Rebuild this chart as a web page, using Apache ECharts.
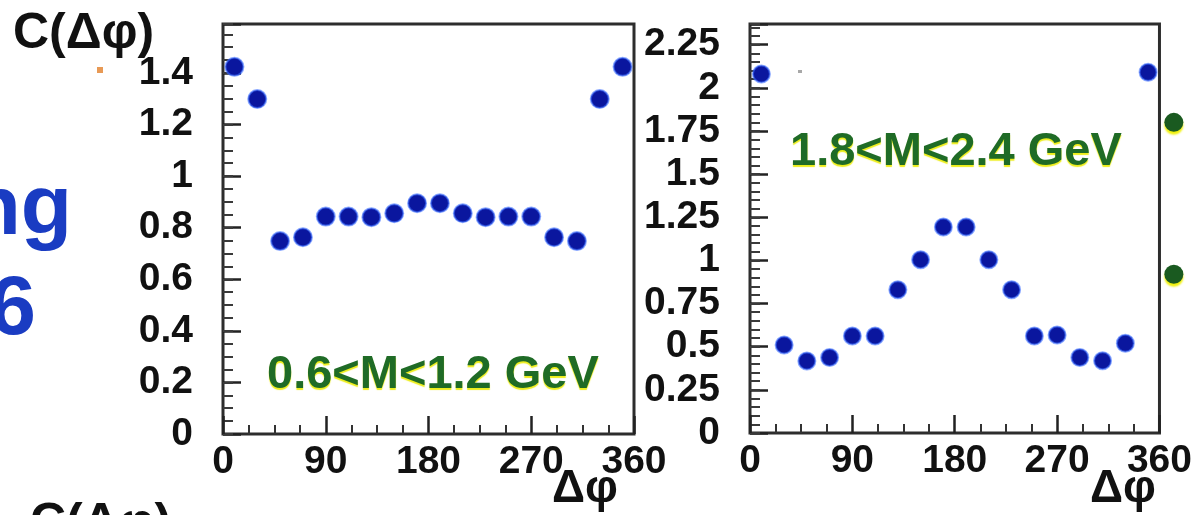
<!DOCTYPE html>
<html>
<head>
<meta charset="utf-8">
<script src="https://cdn.jsdelivr.net/npm/echarts@6/dist/echarts.min.js"></script>
<style>
  html, body { margin: 0; padding: 0; background: #fff; }
  #c { width: 1195px; height: 515px; }
</style>
</head>
<body>
<div id="c"></div>
<script>
// Azimuthal correlation C(Δφ) in 20° bins, two pair-mass windows
const phiBins  = [10, 30, 50, 70, 90, 110, 130, 150, 170, 190, 210, 230, 250, 270, 290, 310, 330, 350];
const lowMass  = [1.424, 1.299, 0.748, 0.763, 0.843, 0.843, 0.841, 0.856, 0.895, 0.895, 0.856, 0.841, 0.843, 0.843, 0.763, 0.748, 1.299, 1.424];
const highMass = [2.080, 0.510, 0.417, 0.438, 0.562, 0.562, 0.830, 1.004, 1.194, 1.194, 1.004, 0.830, 0.562, 0.568, 0.438, 0.419, 0.520, 2.090];
// neighbouring panel, only its first bin is in view
const edgeBins   = [10, 10];
const edgeValues = [1.80, 0.92];

const phiTicks  = [0, 90, 180, 270, 360];
const lowTicks  = [0, 0.2, 0.4, 0.6, 0.8, 1, 1.2, 1.4];
const highTicks = [0, 0.25, 0.5, 0.75, 1, 1.25, 1.5, 1.75, 2, 2.25];
const lowLabel  = '0.6<M<1.2 GeV';
const highLabel = '1.8<M<2.4 GeV';
const yTitle = 'C(Δφ)';
const xTitle = 'Δφ';

const FONT = 'Liberation Sans';
const INK = '#111';

function pick(list) {
  return v => {
    const hit = list.find(t => Math.abs(t - v) < 1e-6);
    return hit === undefined ? '' : String(hit);
  };
}

function xAxisFor(grid) {
  return {
    gridIndex: grid, type: 'value', min: 0, max: 360, interval: 90,
    axisLine: { show: false },
    axisTick: { inside: true, length: 18, lineStyle: { color: '#222', width: 2.5 } },
    minorTick: { show: true, splitNumber: 4, length: 9, lineStyle: { color: '#333', width: 2 } },
    axisLabel: { margin: 9, fontSize: 39, fontWeight: 'bold', fontFamily: FONT, color: INK, formatter: pick(phiTicks) },
    splitLine: { show: false }
  };
}
function yMajor(grid, max, step, ticks) {
  return {
    gridIndex: grid, type: 'value', min: 0, max: max, interval: step, position: 'left',
    axisLine: { show: false },
    axisTick: { inside: true, length: 18, lineStyle: { color: '#222', width: 2.5 } },
    axisLabel: { margin: 30, fontSize: 39, fontWeight: 'bold', fontFamily: FONT, color: INK, formatter: pick(ticks) },
    splitLine: { show: false }
  };
}
function yMinor(grid, max, step) {
  return {
    gridIndex: grid, type: 'value', min: 0, max: max, interval: step, position: 'left',
    axisLine: { show: false },
    axisTick: { inside: true, length: 10, lineStyle: { color: '#3a3a3a', width: 2 } },
    axisLabel: { show: false },
    splitLine: { show: false }
  };
}

const dotStyle = {
  color: '#0a169e',
  opacity: 1,
  borderColor: 'rgba(60,110,255,0.6)',
  borderWidth: 2
};

const gridFrame = { show: true, borderColor: '#2d2d2d', borderWidth: 3, backgroundColor: 'transparent' };

const option = {
  animation: false,
  backgroundColor: '#ffffff',
  grid: [
    Object.assign({ left: 223, top: 24, width: 411, height: 410 }, gridFrame),
    Object.assign({ left: 750, top: 24, width: 410, height: 409 }, gridFrame),
    { left: 1171, top: 24, width: 410, height: 409, show: false }
  ],
  xAxis: [xAxisFor(0), xAxisFor(1), { gridIndex: 2, type: 'value', min: 0, max: 360, show: false }],
  yAxis: [
    yMajor(0, 1.59, 0.2, lowTicks),
    yMinor(0, 1.59, 0.05),
    yMajor(1, 2.37, 0.25, highTicks),
    yMinor(1, 2.37, 0.05),
    { gridIndex: 2, type: 'value', min: 0, max: 2.37, show: false }
  ],
  series: [
    {
      type: 'scatter', xAxisIndex: 0, yAxisIndex: 0, symbolSize: 18,
      data: phiBins.map((x, i) => [x, lowMass[i]]), itemStyle: dotStyle
    },
    {
      type: 'scatter', xAxisIndex: 1, yAxisIndex: 2, symbolSize: 17,
      data: phiBins.map((x, i) => [x, highMass[i]]), itemStyle: dotStyle
    },
    {
      type: 'scatter', xAxisIndex: 2, yAxisIndex: 4, symbolSize: 19, clip: false,
      data: edgeBins.map((x, i) => [x, edgeValues[i]]),
      itemStyle: { color: '#1a5a20', opacity: 1, shadowColor: 'rgba(240,240,0,0.95)', shadowOffsetY: 3, shadowBlur: 2 }
    }
  ],
  graphic: [
    { type: 'text', style: { x: 13, y: 34, text: yTitle, font: 'bold 50px ' + FONT, fill: INK, verticalAlign: 'middle' } },
    { type: 'text', style: { x: 30, y: 524, text: yTitle, font: 'bold 50px ' + FONT, fill: INK, verticalAlign: 'middle' } },
    { type: 'text', style: { x: 72, y: 211, text: 'ng', font: 'bold 84px ' + FONT, fill: '#1a3cc2', align: 'right', verticalAlign: 'middle' } },
    { type: 'text', style: { x: 36, y: 311, text: '6', font: 'bold 84px ' + FONT, fill: '#1a3cc2', align: 'right', verticalAlign: 'middle' } },
    { type: 'rect', shape: { x: 97, y: 67, width: 6, height: 6 }, style: { fill: '#e89a55' } },
    { type: 'rect', shape: { x: 798, y: 70, width: 4, height: 3 }, style: { fill: '#a8a8a8' } },
    { type: 'text', style: { x: 585, y: 489, text: xTitle, font: 'bold 46px ' + FONT, fill: INK, align: 'center', verticalAlign: 'middle' } },
    { type: 'text', style: { x: 1123, y: 489, text: xTitle, font: 'bold 46px ' + FONT, fill: INK, align: 'center', verticalAlign: 'middle' } },
    { type: 'text', style: { x: 267, y: 375, text: lowLabel, font: 'bold 47px ' + FONT, fill: '#1f6b26',
        textShadowColor: 'rgba(235,235,0,0.9)', textShadowOffsetY: 2, textShadowBlur: 1, verticalAlign: 'middle' } },
    { type: 'text', style: { x: 790, y: 152, text: highLabel, font: 'bold 47px ' + FONT, fill: '#1f6b26',
        textShadowColor: 'rgba(235,235,0,0.9)', textShadowOffsetY: 2, textShadowBlur: 1, verticalAlign: 'middle' } }
  ]
};

const chart = echarts.init(document.getElementById('c'), null, { renderer: 'canvas' });
chart.setOption(option);
</script>
</body>
</html>
